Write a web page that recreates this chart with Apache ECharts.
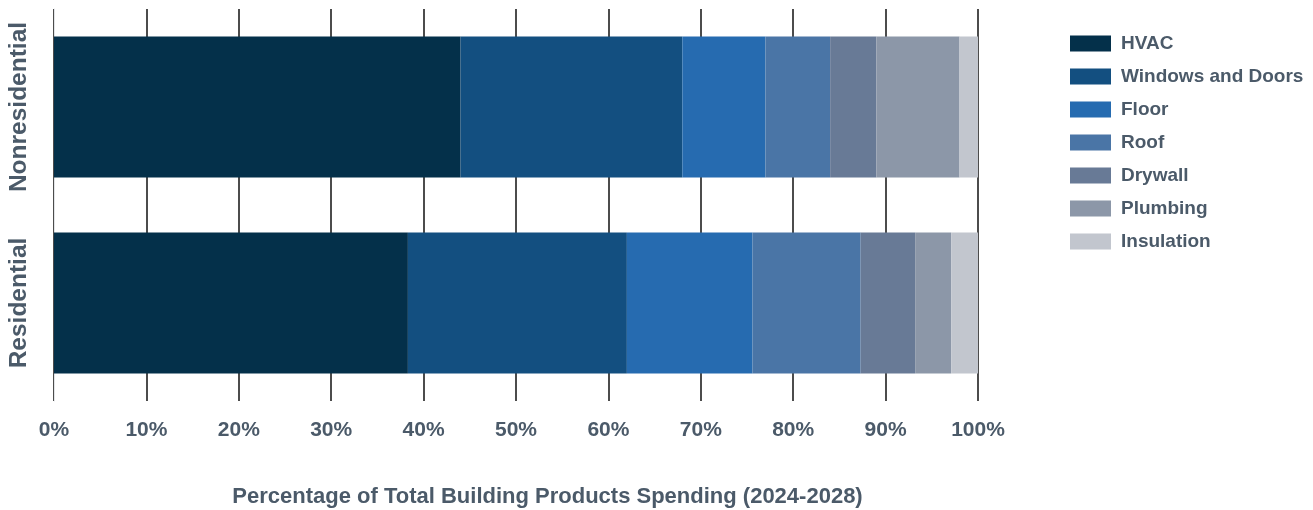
<!DOCTYPE html>
<html>
<head>
<meta charset="utf-8">
<script src="https://cdn.jsdelivr.net/npm/echarts@6/dist/echarts.min.js"></script>
<style>html,body{margin:0;padding:0;background:#fff}#c{width:1313px;height:510px}</style>
</head>
<body>
<div id="c"></div>
<script>
const categories = ['Residential', 'Nonresidential'];
const seriesNames = ['HVAC', 'Windows and Doors', 'Floor', 'Roof', 'Drywall', 'Plumbing', 'Insulation'];
const hvac = [38.3, 44];
const windowsDoors = [23.7, 24];
const floor = [13.6, 9];
const roof = [11.7, 7];
const drywall = [5.9, 5];
const plumbing = [3.9, 9];
const insulation = [2.9, 2];
const xTicks = [0, 10, 20, 30, 40, 50, 60, 70, 80, 90, 100];
const colors = ['#04304a', '#134f80', '#266bb0', '#4a75a6', '#687a96', '#8c97a8', '#c2c6ce'];
const values = [hvac, windowsDoors, floor, roof, drywall, plumbing, insulation];
const textColor = '#4b5a69';
const font = 'Arial, "Liberation Sans", sans-serif';

const chart = echarts.init(document.getElementById('c'));
chart.setOption({
  animation: false,
  color: colors,
  grid: { left: 54, right: 335, top: 9, bottom: 109, containLabel: false, outerBoundsMode: 'none' },
  legend: {
    orient: 'vertical',
    left: 1065,
    top: 29,
    itemWidth: 41,
    itemHeight: 16,
    itemGap: 14,
    icon: 'rect',
    data: seriesNames,
    textStyle: { color: textColor, fontWeight: 'bold', fontSize: 19, fontFamily: font, padding: [0, 0, 0, 5] }
  },
  xAxis: {
    type: 'value',
    min: xTicks[0],
    max: xTicks[xTicks.length - 1],
    interval: 10,
    name: 'Percentage of Total Building Products Spending (2024-2028)',
    nameLocation: 'middle',
    nameGap: 85,
    nameTextStyle: { color: textColor, fontWeight: 'bold', fontSize: 22, fontFamily: font, padding: [0, 0, 0, 63] },
    axisLine: { show: false },
    axisTick: { show: false },
    axisLabel: { formatter: '{value}%', color: textColor, fontWeight: 'bold', fontSize: 21, fontFamily: font, margin: 19 },
    splitLine: { show: true, lineStyle: { color: '#111', width: 1.5 } }
  },
  yAxis: {
    type: 'category',
    data: categories,
    axisLine: { show: true, lineStyle: { color: '#e3e5e8', width: 1 } },
    axisTick: { show: false },
    axisLabel: { interval: 0, rotate: 90, color: textColor, fontWeight: 'bold', fontSize: 24.5, fontFamily: font, margin: 22 }
  },
  series: seriesNames.map((n, i) => ({
    name: n,
    type: 'bar',
    stack: 'total',
    barCategoryGap: '28%',
    data: values[i],
    itemStyle: { color: colors[i] }
  }))
});
</script>
</body>
</html>
